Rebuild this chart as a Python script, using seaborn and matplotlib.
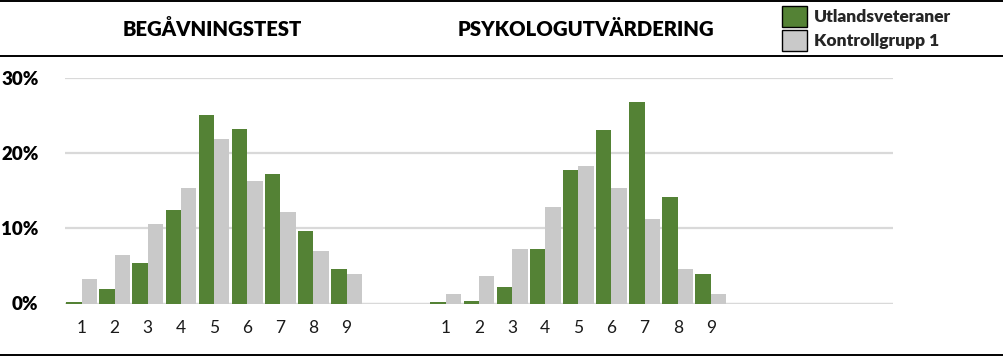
import matplotlib
matplotlib.use("Agg")
import matplotlib.pyplot as plt
import seaborn as sns
import pandas as pd
from matplotlib.patches import Patch
from matplotlib.lines import Line2D

# ---- data (percent) ----
scores = ["1", "2", "3", "4", "5", "6", "7", "8", "9"]
panels = ["BEGÅVNINGSTEST", "PSYKOLOGUTVÄRDERING"]
series = ["Utlandsveteraner", "Kontrollgrupp 1"]

beg_veteraner = [0.2, 1.9, 5.4, 12.4, 25.1, 23.2, 17.2, 9.7, 4.6]
beg_kontroll = [3.3, 6.4, 10.6, 15.3, 21.9, 16.3, 12.2, 7.0, 3.9]
psy_veteraner = [0.2, 0.3, 2.2, 7.3, 17.8, 23.1, 26.8, 14.2, 3.9]
psy_kontroll = [1.3, 3.7, 7.2, 12.8, 18.3, 15.4, 11.3, 4.6, 1.2]

yticks = [0, 10, 20, 30]
ytick_labels = ["0%", "10%", "20%", "30%"]

green = "#548235"
grey = "#c9c9c9"

# ---- build long table ----
rows = []
for panel_key, vet, kon in [("B", beg_veteraner, beg_kontroll),
                            ("P", psy_veteraner, psy_kontroll)]:
    for s, v, k in zip(scores, vet, kon):
        rows.append({"cat": f"{panel_key}{s}", "group": series[0], "value": v})
        rows.append({"cat": f"{panel_key}{s}", "group": series[1], "value": k})
df = pd.DataFrame(rows)

order = ([f"B{s}" for s in scores] + ["gap1", "gap2"] +
         [f"P{s}" for s in scores] + [f"end{i}" for i in range(5)])
tick_labels = scores + ["", ""] + scores + [""] * 5

sns.set_theme(style="white")
plt.rcParams["font.family"] = ["Lato", "DejaVu Sans"]

fig = plt.figure(figsize=(10.04, 3.57), dpi=100)
ax = fig.add_axes([65 / 1004, (357 - 303.5) / 357, (893 - 65) / 1004, (303.5 - 78) / 357])

sns.barplot(data=df, x="cat", y="value", hue="group", order=order,
            hue_order=series, palette=[green, grey], width=0.93, gap=0,
            saturation=1, errorbar=None, legend=False, ax=ax,
            linewidth=0)

ax.set_xlim(-0.5, len(order) - 0.5)
ax.set_ylim(0, 30)
ax.set_yticks(yticks)
ax.set_yticklabels(ytick_labels, fontweight="heavy", fontsize=13.5, color="black")
ax.set_xticks(range(len(order)))
ax.set_xticklabels(tick_labels, fontsize=12.5, color="#1a1a1a")
ax.tick_params(axis="x", length=0, pad=12)
ax.tick_params(axis="y", length=0, pad=19)
ax.set_xlabel("")
ax.set_ylabel("")
for sp in ax.spines.values():
    sp.set_visible(False)
ax.yaxis.grid(True, color="#d9d9d9", linewidth=1.6)
ax.set_axisbelow(True)
ax.axhline(0, color="#d9d9d9", linewidth=1.6, zorder=0.5)

# panel titles
fig.text(212 / 1004, 1 - 29 / 357, panels[0], ha="center", va="center",
         fontsize=14.6, fontweight="heavy", color="black")
fig.text(586 / 1004, 1 - 29 / 357, panels[1], ha="center", va="center",
         fontsize=14.6, fontweight="heavy", color="black")

# frame lines
for yy in [0.8, 56, 355]:
    fig.add_artist(Line2D([0, 1], [1 - yy / 357, 1 - yy / 357],
                          color="black", linewidth=1.4))

# legend
handles = [Patch(facecolor=green, edgecolor="black", linewidth=1.0),
           Patch(facecolor=grey, edgecolor="black", linewidth=1.0)]
fig.legend(handles, series, loc="upper left",
           bbox_to_anchor=(777 / 1004, 1 - 1 / 357), frameon=False,
           prop={"weight": "heavy", "size": 12.5}, handlelength=1.45,
           handleheight=1.45, handletextpad=0.4, labelspacing=0.2,
           borderpad=0.3, borderaxespad=0)

fig.savefig("out.png", dpi=100, facecolor="white")
